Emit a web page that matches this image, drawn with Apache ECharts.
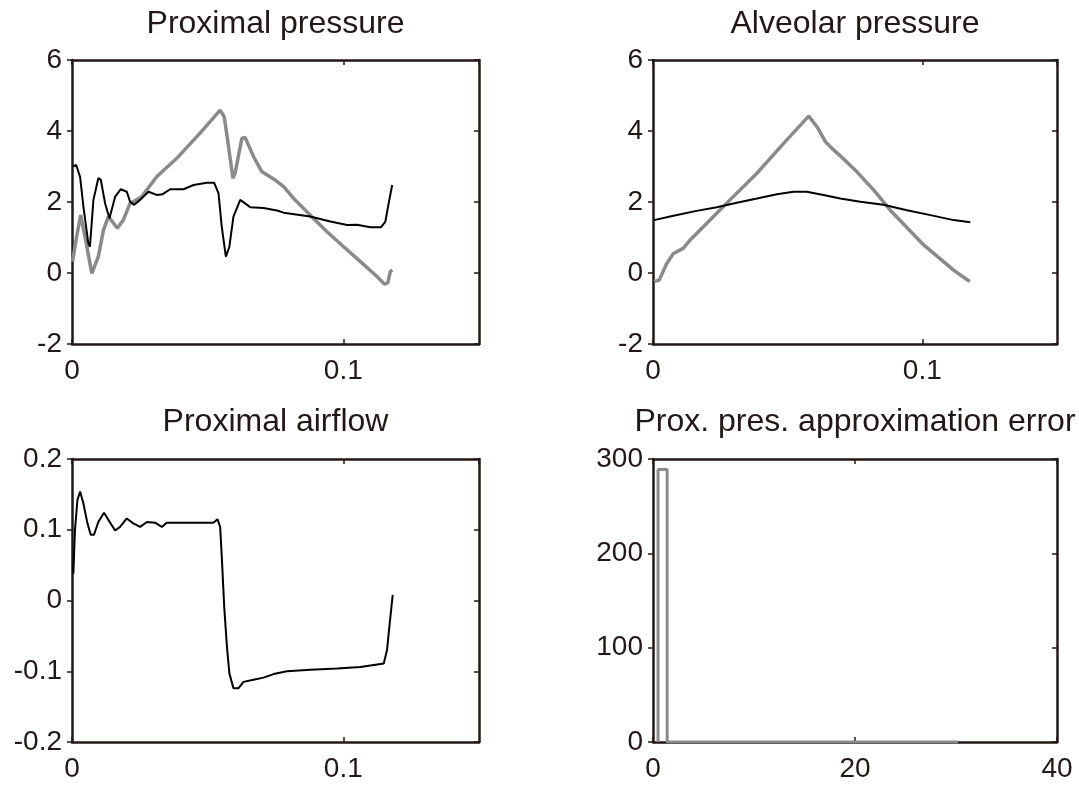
<!DOCTYPE html>
<html>
<head>
<meta charset="utf-8">
<script src="https://cdn.jsdelivr.net/npm/echarts@6/dist/echarts.min.js"></script>
<style>
  html, body { margin: 0; padding: 0; background: #fff; }
  #chart { width: 1079px; height: 785px; }
</style>
</head>
<body>
<div id="chart"></div>
<script>
// Proximal pressure (top left)
const proxPresBlackT = [0.0005, 0.0015, 0.003, 0.0042, 0.006, 0.0066, 0.0079, 0.0097, 0.0106, 0.0122, 0.0138, 0.0159, 0.018, 0.0202, 0.0214, 0.0229, 0.0251, 0.0282, 0.0312, 0.0334, 0.0362, 0.0411, 0.0448, 0.0497, 0.0524, 0.054, 0.0552, 0.0567, 0.058, 0.0595, 0.062, 0.0638, 0.0657, 0.0706, 0.0755, 0.078, 0.0878, 0.0952, 0.1014, 0.105, 0.11, 0.1139, 0.1155, 0.1167, 0.118];
const proxPresBlack = [3.0, 3.05, 2.7, 1.87, 0.84, 0.74, 2.06, 2.67, 2.63, 1.96, 1.54, 2.15, 2.36, 2.29, 2.01, 1.92, 2.06, 2.29, 2.2, 2.22, 2.36, 2.36, 2.48, 2.54, 2.54, 2.24, 1.3, 0.46, 0.74, 1.59, 2.06, 1.96, 1.85, 1.83, 1.76, 1.7, 1.59, 1.45, 1.35, 1.36, 1.29, 1.29, 1.45, 1.96, 2.48];
const proxPresGrayT = [0.0002, 0.0017, 0.0032, 0.0048, 0.0073, 0.0097, 0.0116, 0.0134, 0.0167, 0.0189, 0.0214, 0.0257, 0.0312, 0.0386, 0.0472, 0.0546, 0.0561, 0.0577, 0.0593, 0.0601, 0.0626, 0.0638, 0.0669, 0.07, 0.0743, 0.078, 0.0817, 0.0878, 0.094, 0.1001, 0.1063, 0.1124, 0.1151, 0.1164, 0.1173, 0.1181];
const proxPresGray = [0.32, 1.02, 1.63, 1.02, -0.01, 0.46, 1.21, 1.59, 1.26, 1.49, 1.96, 2.15, 2.71, 3.23, 3.94, 4.59, 4.4, 3.56, 2.67, 2.81, 3.79, 3.82, 3.28, 2.85, 2.65, 2.43, 2.1, 1.63, 1.16, 0.74, 0.32, -0.1, -0.31, -0.28, 0.04, 0.08];

// Alveolar pressure (top right)
const alvPresBlackT = [0.0004, 0.0076, 0.0162, 0.0237, 0.0311, 0.0386, 0.046, 0.0522, 0.0571, 0.0633, 0.0695, 0.077, 0.0856, 0.0943, 0.103, 0.1116, 0.1178];
const alvPresBlack = [1.49, 1.61, 1.75, 1.85, 1.98, 2.1, 2.22, 2.29, 2.29, 2.2, 2.1, 2.01, 1.92, 1.77, 1.63, 1.49, 1.43];
const alvPresGrayT = [0.0004, 0.0023, 0.0051, 0.0076, 0.0113, 0.0138, 0.0187, 0.0286, 0.0386, 0.0485, 0.0578, 0.0609, 0.064, 0.0658, 0.0695, 0.0757, 0.0819, 0.0881, 0.1005, 0.1116, 0.1176];
const alvPresGray = [-0.24, -0.2, 0.27, 0.55, 0.7, 0.93, 1.3, 2.06, 2.81, 3.65, 4.42, 4.12, 3.7, 3.56, 3.3, 2.85, 2.34, 1.77, 0.79, 0.08, -0.24];

// Proximal airflow (bottom left)
const airflowT = [0.0005, 0.0011, 0.002, 0.003, 0.0042, 0.0057, 0.0069, 0.0081, 0.0097, 0.0118, 0.0134, 0.0159, 0.0177, 0.0202, 0.0226, 0.0251, 0.0276, 0.0306, 0.0331, 0.0349, 0.0423, 0.0521, 0.0536, 0.0546, 0.0552, 0.0561, 0.0571, 0.058, 0.0595, 0.0614, 0.0632, 0.0669, 0.0706, 0.0743, 0.0792, 0.0878, 0.0977, 0.1063, 0.1149, 0.1161, 0.1171, 0.1182];
const airflow = [0.038, 0.1, 0.142, 0.154, 0.137, 0.109, 0.093, 0.093, 0.111, 0.124, 0.114, 0.099, 0.104, 0.116, 0.109, 0.104, 0.111, 0.11, 0.104, 0.11, 0.11, 0.11, 0.115, 0.104, 0.062, -0.009, -0.065, -0.103, -0.124, -0.124, -0.115, -0.112, -0.109, -0.104, -0.1, -0.098, -0.096, -0.094, -0.089, -0.07, -0.032, 0.008];

// Approximation error (bottom right), drawn as stairs
const errIter = [0.5, 1.4, 30.2];
const errValue = [0, 289, 0];

const titles = ['Proximal pressure', 'Alveolar pressure', 'Proximal airflow', 'Prox. pres. approximation error'];

const ink = '#231815';
const gray = '#8a8a8a';
const fontFamily = 'Liberation Sans, Arial, sans-serif';

const grids = [
    { left: 72, top: 60, width: 407, height: 284 },
    { left: 653, top: 60, width: 404, height: 284 },
    { left: 72, top: 459, width: 407, height: 283 },
    { left: 653, top: 459, width: 404, height: 283 }
];

// limites de cada panel: [xmin, xmax, xstep, ymin, ymax, ystep]
const ranges = [
    [0, 0.15, 0.1, -2, 6, 2],
    [0, 0.15, 0.1, -2, 6, 2],
    [0, 0.15, 0.1, -0.2, 0.2, 0.1],
    [0, 40, 20, 0, 300, 100]
];

const pares = (xs, ys) => xs.map((x, i) => [x, ys[i]]);

function ejeX(i, pos) {
    const [min, max, interval] = ranges[i];
    return {
        type: 'value', gridIndex: i, position: pos, min, max, interval,
        axisLine: { show: true, onZero: false, lineStyle: { color: ink, width: 2.5 } },
        axisTick: { show: true, inside: true, length: 5, lineStyle: { color: ink, width: 1.5 } },
        axisLabel: {
            show: pos === 'bottom', color: ink, fontSize: 28, fontFamily, margin: 13,
            showMaxLabel: i === 3
        },
        splitLine: { show: false }
    };
}

function ejeY(i, pos) {
    const [, , , min, max, interval] = ranges[i];
    return {
        type: 'value', gridIndex: i, position: pos, min, max, interval,
        axisLine: { show: true, onZero: false, lineStyle: { color: ink, width: 2.5 } },
        axisTick: { show: true, inside: pos === 'right', length: 5, lineStyle: { color: ink, width: 1.5 } },
        axisLabel: { show: pos === 'left', color: ink, fontSize: 28, fontFamily, margin: 10 },
        splitLine: { show: false }
    };
}

const xAxis = [];
const yAxis = [];
for (let i = 0; i < 4; i++) {
    xAxis.push(ejeX(i, 'bottom'));
    yAxis.push(ejeY(i, 'left'));
}
for (let i = 0; i < 4; i++) {
    xAxis.push(ejeX(i, 'top'));
    yAxis.push(ejeY(i, 'right'));
}

function linea(idx, data, color, width, extra) {
    return Object.assign({
        type: 'line', xAxisIndex: idx, yAxisIndex: idx, data,
        showSymbol: false, symbol: 'none', animation: false,
        lineStyle: { color, width }
    }, extra || {});
}

const series = [
    linea(0, pares(proxPresGrayT, proxPresGray), gray, 3.5),
    linea(0, pares(proxPresBlackT, proxPresBlack), '#000', 2),
    linea(1, pares(alvPresGrayT, alvPresGray), gray, 3.5),
    linea(1, pares(alvPresBlackT, alvPresBlack), '#000', 2),
    linea(2, pares(airflowT, airflow), '#000', 2),
    linea(3, pares(errIter, errValue), gray, 3, { step: 'start' })
];

const title = titles.map((text, i) => ({
    text,
    left: grids[i].left + grids[i].width / 2,
    top: i < 2 ? 8 : 406,
    textAlign: 'center',
    padding: 0,
    textStyle: { color: ink, fontSize: 32, fontWeight: 'normal', fontFamily }
}));

const chart = echarts.init(document.getElementById('chart'));
chart.setOption({
    backgroundColor: '#fff',
    animation: false,
    title,
    grid: grids,
    xAxis,
    yAxis,
    series
});
</script>
</body>
</html>
